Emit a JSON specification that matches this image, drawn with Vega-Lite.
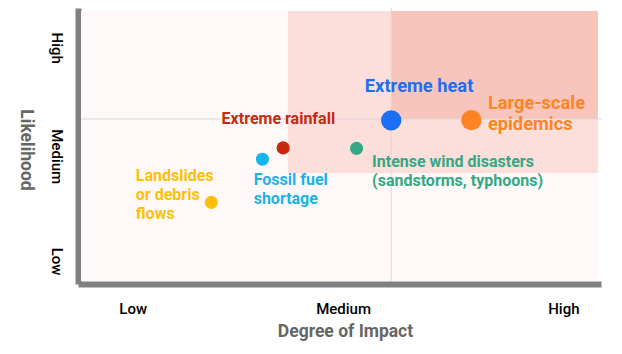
{
  "$schema": "https://vega.github.io/schema/vega-lite/v6.json",
  "width": 517,
  "height": 270,
  "autosize": {"type": "none"},
  "padding": {"left": 81, "top": 11, "right": 24, "bottom": 73},
  "background": "white",
  "config": {"view": {"stroke": null}, "font": "Roboto"},
  "datasets": {
    "zones": [
      {"zone": "low", "x": 0, "x2": 10, "y": 0, "y2": 10},
      {"zone": "mid", "x": 4, "x2": 10, "y": 4, "y2": 10},
      {"zone": "high", "x": 6, "x2": 10, "y": 6, "y2": 10}
    ],
    "grid": [
      {"x": 6, "x2": 6, "y": 0, "y2": 10.11},
      {"x": 0, "x2": 10.07, "y": 6, "y2": 6}
    ],
    "risks": [
      {"name": "Landslides or debris flows", "label": "Landslides\nor debris\nflows", "tier": "minor", "x": 2.52, "y": 2.91, "lx": 1.06, "ly": 3.71},
      {"name": "Fossil fuel shortage", "label": "Fossil fuel\nshortage", "tier": "minor", "x": 3.51, "y": 4.51, "lx": 3.34, "ly": 3.56},
      {"name": "Extreme rainfall", "label": "Extreme rainfall", "tier": "minor", "x": 3.91, "y": 4.93, "lx": 2.72, "ly": 5.80},
      {"name": "Intense wind disasters", "label": "Intense wind disasters\n(sandstorms, typhoons)", "tier": "minor", "x": 5.33, "y": 4.91, "lx": 5.63, "ly": 4.24},
      {"name": "Extreme heat", "label": "Extreme heat", "tier": "major", "x": 6.0, "y": 5.95, "lx": 5.49, "ly": 7.01},
      {"name": "Large-scale epidemics", "label": "Large-scale\nepidemics", "tier": "major", "x": 7.55, "y": 5.96, "lx": 7.87, "ly": 6.38}
    ]
  },
  "encoding": {
    "x": {"type": "quantitative",
      "scale": {"domain": [0, 10], "nice": false, "zero": false},
      "axis": {
        "title": "Degree of Impact", "values": [1, 5.07, 9.33],
        "labelExpr": "datum.value < 3 ? 'Low' : datum.value < 7 ? 'Medium' : 'High'",
        "grid": false, "ticks": false, "offset": 3,
        "domainColor": "#808080", "domainWidth": 6, "domainCap": "square",
        "labelFont": "Roboto", "labelFontSize": 15, "labelFontWeight": 500, "labelColor": "#000000",
        "labelBaseline": "top", "labelPadding": 17.5, "labelAlign": "center",
        "titleFont": "Roboto", "titleFontSize": 17.5, "titleFontWeight": "bold", "titleColor": "#666666",
        "titleX": 264, "titleY": 52.7, "titleBaseline": "alphabetic", "titleAlign": "center"
      }},
    "y": {"type": "quantitative",
      "scale": {"domain": [0, 10], "nice": false, "zero": false},
      "axis": {
        "title": "Likelihood", "values": [0.74, 4.62, 8.64],
        "labelExpr": "datum.value < 3 ? 'Low' : datum.value < 7 ? 'Medium' : 'High'",
        "grid": false, "ticks": false, "offset": 3,
        "domainColor": "#808080", "domainWidth": 6, "domainCap": "square",
        "labelFont": "Roboto", "labelFontSize": 15, "labelFontWeight": 500, "labelColor": "#000000",
        "labelAngle": 90, "labelAlign": "center", "labelBaseline": "alphabetic", "labelPadding": 26.5,
        "titleFont": "Roboto", "titleFontSize": 17.5, "titleFontWeight": "bold", "titleColor": "#666666",
        "titleAngle": 90, "titleX": -57.5, "titleY": 138.5, "titleBaseline": "alphabetic", "titleAlign": "center"
      }}
  },
  "layer": [
    {
      "data": {"name": "zones"},
      "mark": {"type": "rect"},
      "encoding": {
        "x": {"field": "x", "type": "quantitative"},
        "x2": {"field": "x2"},
        "y": {"field": "y", "type": "quantitative"},
        "y2": {"field": "y2"},
        "fill": {"field": "zone", "type": "nominal",
          "scale": {"domain": ["low", "mid", "high"], "range": ["#fef9f8", "#fcdfda", "#f8c5bd"]},
          "legend": null}
      }
    },
    {
      "data": {"name": "grid"},
      "mark": {"type": "rule", "color": "#d9d9d9", "strokeWidth": 1},
      "encoding": {
        "x": {"field": "x", "type": "quantitative"},
        "x2": {"field": "x2"},
        "y": {"field": "y", "type": "quantitative"},
        "y2": {"field": "y2"}
      }
    },
    {
      "data": {"name": "risks"},
      "mark": {"type": "circle", "opacity": 1},
      "encoding": {
        "x": {"field": "x", "type": "quantitative"},
        "y": {"field": "y", "type": "quantitative"},
        "size": {"field": "tier", "type": "ordinal", "scale": {"domain": ["major", "minor"], "range": [415, 172]}, "legend": null},
        "color": {"field": "name", "type": "nominal",
          "scale": {"domain": ["Landslides or debris flows", "Fossil fuel shortage", "Extreme rainfall", "Intense wind disasters", "Extreme heat", "Large-scale epidemics"],
                    "range": ["#fcc00a", "#16b4ea", "#c7290f", "#34a885", "#1a6ff5", "#fd8423"]},
          "legend": null}
      }
    },
    {
      "data": {"name": "risks"},
      "transform": [{"filter": "datum.tier == 'minor'"}],
      "mark": {"type": "text", "font": "Roboto", "fontWeight": "bold", "fontSize": 16, "align": "left", "baseline": "alphabetic", "lineBreak": "\n", "lineHeight": 19},
      "encoding": {
        "x": {"field": "lx", "type": "quantitative"},
        "y": {"field": "ly", "type": "quantitative"},
        "text": {"field": "label"},
        "color": {"field": "name", "type": "nominal", "legend": null}
      }
    },
    {
      "data": {"name": "risks"},
      "transform": [{"filter": "datum.tier == 'major'"}],
      "mark": {"type": "text", "font": "Roboto", "fontWeight": "bold", "fontSize": 18.3, "align": "left", "baseline": "alphabetic", "lineBreak": "\n", "lineHeight": 21},
      "encoding": {
        "x": {"field": "lx", "type": "quantitative"},
        "y": {"field": "ly", "type": "quantitative"},
        "text": {"field": "label"},
        "color": {"field": "name", "type": "nominal", "legend": null}
      }
    }
  ]
}
